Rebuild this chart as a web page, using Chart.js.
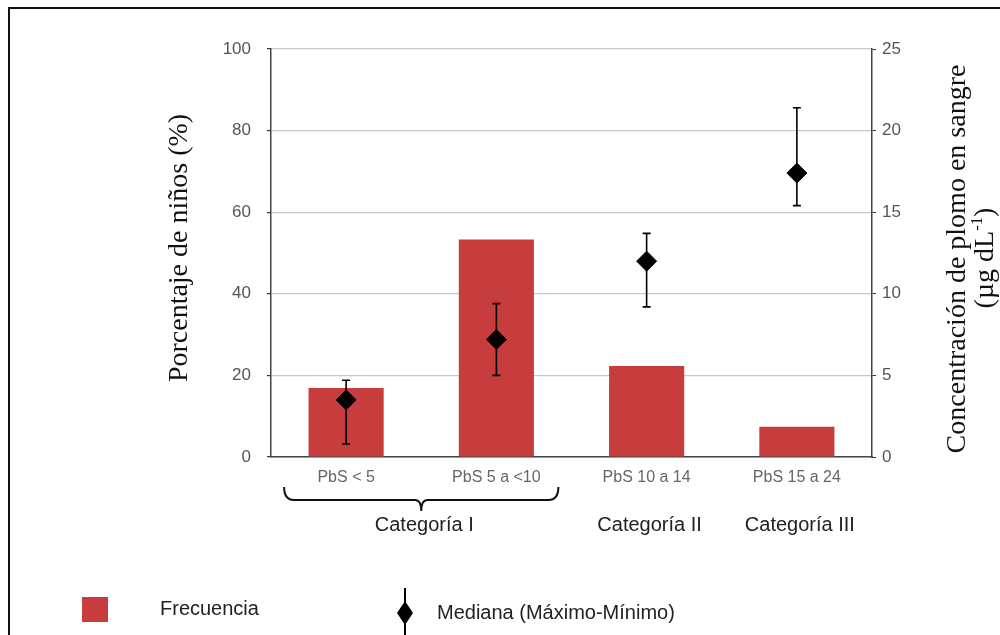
<!DOCTYPE html>
<html>
<head>
<meta charset="utf-8">
<script src="https://cdn.jsdelivr.net/npm/chart.js@4/dist/chart.umd.min.js"></script>
<style>
  body { margin: 0; background: #fff; }
  #wrap { width: 1000px; height: 635px; position: relative; }
</style>
</head>
<body>
<div id="wrap"><canvas id="chart"></canvas></div>
<script>
// Data
const labels = ['PbS < 5', 'PbS 5 a <10', 'PbS 10 a 14', 'PbS 15 a 24'];
const frecuencia = [16.9, 53.3, 22.3, 7.4];      // % of children (left axis)
const mediana = [3.5, 7.2, 12.0, 17.4];           // µg/dL (right axis)
const maximo = [4.7, 9.4, 13.7, 21.4];
const minimo = [0.8, 5.0, 9.2, 15.4];
const grupos = [
    { text: 'Categoría I', from: 0, to: 1, brace: true },
    { text: 'Categoría II', from: 2, to: 2, brace: false },
    { text: 'Categoría III', from: 3, to: 3, brace: false },
];

const RED = '#c73c3c';
const SANS = '"Liberation Sans", Arial, sans-serif';
const SERIF = '"Liberation Serif", "Times New Roman", serif';

// Draw a rotated (bottom-to-top) text centred at cx, cy
function vText(ctx, parts, cx, cy, size) {
    ctx.save();
    ctx.translate(cx, cy);
    ctx.rotate(-Math.PI / 2);
    ctx.textBaseline = 'middle';
    ctx.textAlign = 'left';
    let total = 0;
    parts.forEach(p => {
        ctx.font = (p.sup ? size * 0.6 : size) + 'px ' + SERIF;
        p.w = ctx.measureText(p.t).width;
        total += p.w;
    });
    let x = -total / 2;
    parts.forEach(p => {
        ctx.font = (p.sup ? size * 0.6 : size) + 'px ' + SERIF;
        ctx.fillText(p.t, x, p.sup ? -size * 0.3 : 0);
        x += p.w;
    });
    ctx.restore();
}

const extras = {
    id: 'extras',
    afterDatasetDraw(chart, args) {
        if (args.index !== 0) return;
        const { ctx, scales: { x, y1 } } = chart;
        ctx.save();
        ctx.strokeStyle = '#000';
        ctx.lineWidth = 1.6;
        labels.forEach((l, i) => {
            const px = x.getPixelForValue(i);
            const top = y1.getPixelForValue(maximo[i]);
            const bot = y1.getPixelForValue(minimo[i]);
            ctx.beginPath();
            ctx.moveTo(px, top); ctx.lineTo(px, bot);
            ctx.moveTo(px - 4, top); ctx.lineTo(px + 4, top);
            ctx.moveTo(px - 4, bot); ctx.lineTo(px + 4, bot);
            ctx.stroke();
        });
        ctx.restore();
    },
    afterDraw(chart) {
        const { ctx, scales: { x } } = chart;
        ctx.save();

        // frame
        ctx.strokeStyle = '#111';
        ctx.lineWidth = 2;
        ctx.beginPath();
        ctx.moveTo(9, 640); ctx.lineTo(9, 8); ctx.lineTo(1000, 8);
        ctx.stroke();

        // axis titles
        ctx.fillStyle = '#111';
        vText(ctx, [{ t: 'Porcentaje de niños (%)' }], 180, 248, 28);
        vText(ctx, [{ t: 'Concentración de plomo en sangre' }], 958, 259, 28);
        vText(ctx, [{ t: '(µg dL' }, { t: '-1', sup: true }, { t: ')' }], 986, 258, 28);

        // brace + group labels
        ctx.strokeStyle = '#111';
        ctx.lineWidth = 2;
        ctx.fillStyle = '#222';
        ctx.font = '20px ' + SANS;
        ctx.textAlign = 'center';
        ctx.textBaseline = 'middle';
        grupos.forEach(g => {
            const a = x.getPixelForValue(g.from);
            const b = x.getPixelForValue(g.to);
            const mid = (a + b) / 2;
            if (g.brace) {
                const l = a - 62, r = b + 62, yb = 500;
                ctx.beginPath();
                ctx.moveTo(l, 487);
                ctx.quadraticCurveTo(l, yb, l + 10, yb);
                ctx.lineTo(mid - 6, yb);
                ctx.quadraticCurveTo(mid, yb, mid, 511);
                ctx.quadraticCurveTo(mid, yb, mid + 6, yb);
                ctx.lineTo(r - 10, yb);
                ctx.quadraticCurveTo(r, yb, r, 487);
                ctx.stroke();
            }
            ctx.fillText(g.text, mid + 3, 525);
        });

        // legend
        ctx.fillStyle = RED;
        ctx.fillRect(82, 597, 26, 25);
        ctx.fillStyle = '#222';
        ctx.font = '20px ' + SANS;
        ctx.textAlign = 'left';
        ctx.fillText('Frecuencia', 160, 609);
        ctx.strokeStyle = '#000';
        ctx.lineWidth = 2;
        ctx.beginPath();
        ctx.moveTo(405, 588); ctx.lineTo(405, 640);
        ctx.stroke();
        ctx.fillStyle = '#000';
        ctx.beginPath();
        ctx.moveTo(405, 601); ctx.lineTo(413, 613); ctx.lineTo(405, 625); ctx.lineTo(397, 613);
        ctx.closePath();
        ctx.fill();
        ctx.fillStyle = '#222';
        ctx.fillText('Mediana (Máximo-Mínimo)', 437, 613);

        ctx.restore();
    }
};

new Chart(document.getElementById('chart'), {
    data: {
        labels: labels,
        datasets: [
            {
                type: 'bar', label: 'Frecuencia', data: frecuencia, yAxisID: 'y',
                backgroundColor: RED, categoryPercentage: 1, barPercentage: 0.5, order: 2,
            },
            {
                type: 'line', label: 'Mediana (Máximo-Mínimo)', data: mediana, yAxisID: 'y1',
                showLine: false, pointStyle: 'rectRot', pointRadius: 10,
                backgroundColor: '#000', borderColor: '#000', order: 1,
            },
        ],
    },
    options: {
        responsive: true,
        maintainAspectRatio: false,
        animation: false,
        layout: { padding: { left: 0, right: 0, top: 49, bottom: 0 } },
        plugins: { legend: { display: false }, tooltip: { enabled: false } },
        scales: {
            x: {
                afterFit: s => { s.height = 178; },
                grid: { display: false },
                border: { display: true, color: '#444', width: 1.5 },
                ticks: { color: '#666', font: { family: SANS, size: 16 }, padding: 3 },
            },
            y: {
                position: 'left', min: 0, max: 100,
                afterFit: s => { s.width = 271; },
                grid: { color: '#c8c8c8', lineWidth: 1.2, tickColor: '#333', tickLength: 4 },
                border: { color: '#444', width: 1.5 },
                ticks: { stepSize: 20, color: '#555', font: { family: SANS, size: 17 }, padding: 16 },
            },
            y1: {
                position: 'right', min: 0, max: 25,
                afterFit: s => { s.width = 128; },
                grid: { drawOnChartArea: false, tickColor: '#333', tickLength: 4 },
                border: { color: '#444', width: 1.5 },
                ticks: { stepSize: 5, color: '#555', font: { family: SANS, size: 17 }, padding: 6 },
            },
        },
    },
    plugins: [extras],
});
</script>
</body>
</html>
